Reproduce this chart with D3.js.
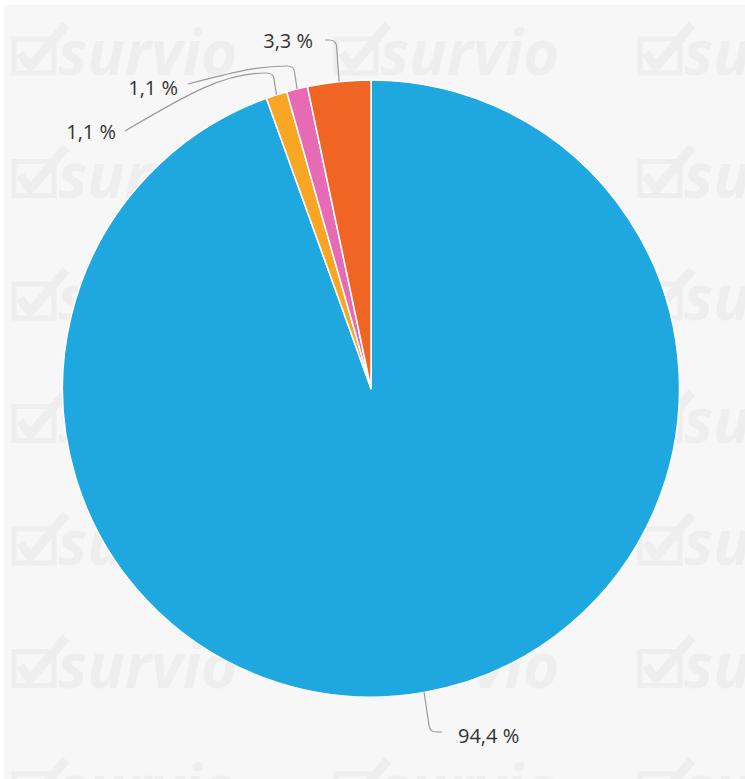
<!DOCTYPE html>
<html>
<head>
<meta charset="utf-8">
<script src="https://cdn.jsdelivr.net/npm/d3@7/dist/d3.min.js"></script>
<style>
body { margin: 0; background: #fff; }
svg { display: block; }
.lbl { font-family: "Open Sans", sans-serif; font-size: 20px; fill: #333; }
.leader { fill: none; stroke: #9a9a9a; stroke-width: 1.2; }
.wm text { font-family: "Open Sans", sans-serif; font-weight: 700; font-style: italic; font-size: 62px; }
</style>
</head>
<body>
<svg id="chart" width="745" height="779"></svg>
<script>
// answers of the survey question (names are not shown on the chart)
var categories = ['Answer 1', 'Answer 2', 'Answer 3', 'Answer 4'];
var values = [94.4, 1.1, 1.1, 3.3];
var colors = ['#1fa8df', '#f8a623', '#e66ab4', '#f06424'];

var W = 745, H = 779;
var cx = 371, cy = 388.5, R = 308.5;

var svg = d3.select('#chart');

// panel background
svg.append('rect')
	.attr('x', 4).attr('y', 5)
	.attr('width', W - 4).attr('height', H - 5)
	.attr('fill', '#f7f7f7');

// survio watermark tiles
var wm = svg.append('g').attr('class', 'wm');
var wmCols = [12, 334, 638];
d3.range(7).forEach(function(k) {
	wmCols.forEach(function(x0) {
		var g = wm.append('g')
			.attr('transform', 'translate(' + x0 + ',' + (23 + 122.5 * k) + ')')
			.attr('opacity', 0.03);
		g.append('rect')
			.attr('x', 2).attr('y', 16)
			.attr('width', 40).attr('height', 34)
			.attr('fill', 'none').attr('stroke', '#000').attr('stroke-width', 5);
		g.append('path')
			.attr('d', 'M8,30 L18,44 L54,2')
			.attr('fill', 'none').attr('stroke', '#000').attr('stroke-width', 9);
		g.append('text')
			.attr('x', 46).attr('y', 52)
			.attr('fill', '#000')
			.text('survio');
	});
});

var data = categories.map(function(c, i) {
	return { name: c, value: values[i], color: colors[i] };
});

var pie = d3.pie()
	.sort(null)
	.value(function(d) { return d.value; });

var arcs = pie(data);

var arc = d3.arc().innerRadius(0).outerRadius(R);
var edge = d3.arc().innerRadius(R).outerRadius(R);

var g = svg.append('g').attr('transform', 'translate(' + cx + ',' + cy + ')');

g.selectAll('path.slice')
	.data(arcs)
	.enter()
	.append('path')
	.attr('class', 'slice')
	.attr('d', arc)
	.attr('fill', function(d) { return d.data.color; })
	.attr('stroke', '#fff')
	.attr('stroke-width', 1.5)
	.attr('stroke-linejoin', 'round');

var locale = d3.formatLocale({ decimal: ',', thousands: ' ', grouping: [3], currency: ['', ''] });
var fmt = locale.format('.1f');

// label placement: label anchor, text position, elbow height
var layout = [
	{ ax: 442, ay: 732, tx: 458, ty: 743, anchor: 'start', bottom: true },
	{ ax: 125, ay: 131, tx: 116, ty: 139, anchor: 'end', top: 73 },
	{ ax: 188, ay: 84, tx: 178, ty: 95, anchor: 'end', top: 66 },
	{ ax: 325, ay: 40, tx: 313, ty: 48, anchor: 'end', top: 40 }
];

function leaderPath(d, i) {
	var p = edge.centroid(d);
	var px = p[0] + cx, py = p[1] + cy;
	var L = layout[i];
	if (L.bottom) {
		return 'M' + px + ',' + py +
			' L' + (px + 5) + ',' + (L.ay - 6) +
			' Q' + (px + 6) + ',' + L.ay + ' ' + (px + 12) + ',' + L.ay +
			' L' + L.ax + ',' + L.ay;
	}
	var ex = px - 3;
	var w = ex - 7 - L.ax;
	return 'M' + L.ax + ',' + L.ay +
		' C' + (L.ax + 0.45 * w) + ',' + (L.top + 0.35 * (L.ay - L.top)) + ' ' +
		(L.ax + 0.7 * w) + ',' + L.top + ' ' + (ex - 7) + ',' + L.top +
		' Q' + ex + ',' + L.top + ' ' + (ex + 0.5) + ',' + (L.top + 6) +
		' L' + px + ',' + py;
}

svg.selectAll('path.leader')
	.data(arcs)
	.enter()
	.append('path')
	.attr('class', 'leader')
	.attr('d', leaderPath);

svg.selectAll('text.lbl')
	.data(arcs)
	.enter()
	.append('text')
	.attr('class', 'lbl')
	.attr('x', function(d, i) { return layout[i].tx; })
	.attr('y', function(d, i) { return layout[i].ty; })
	.attr('text-anchor', function(d, i) { return layout[i].anchor; })
	.text(function(d) { return fmt(d.data.value) + ' %'; });
</script>
</body>
</html>
